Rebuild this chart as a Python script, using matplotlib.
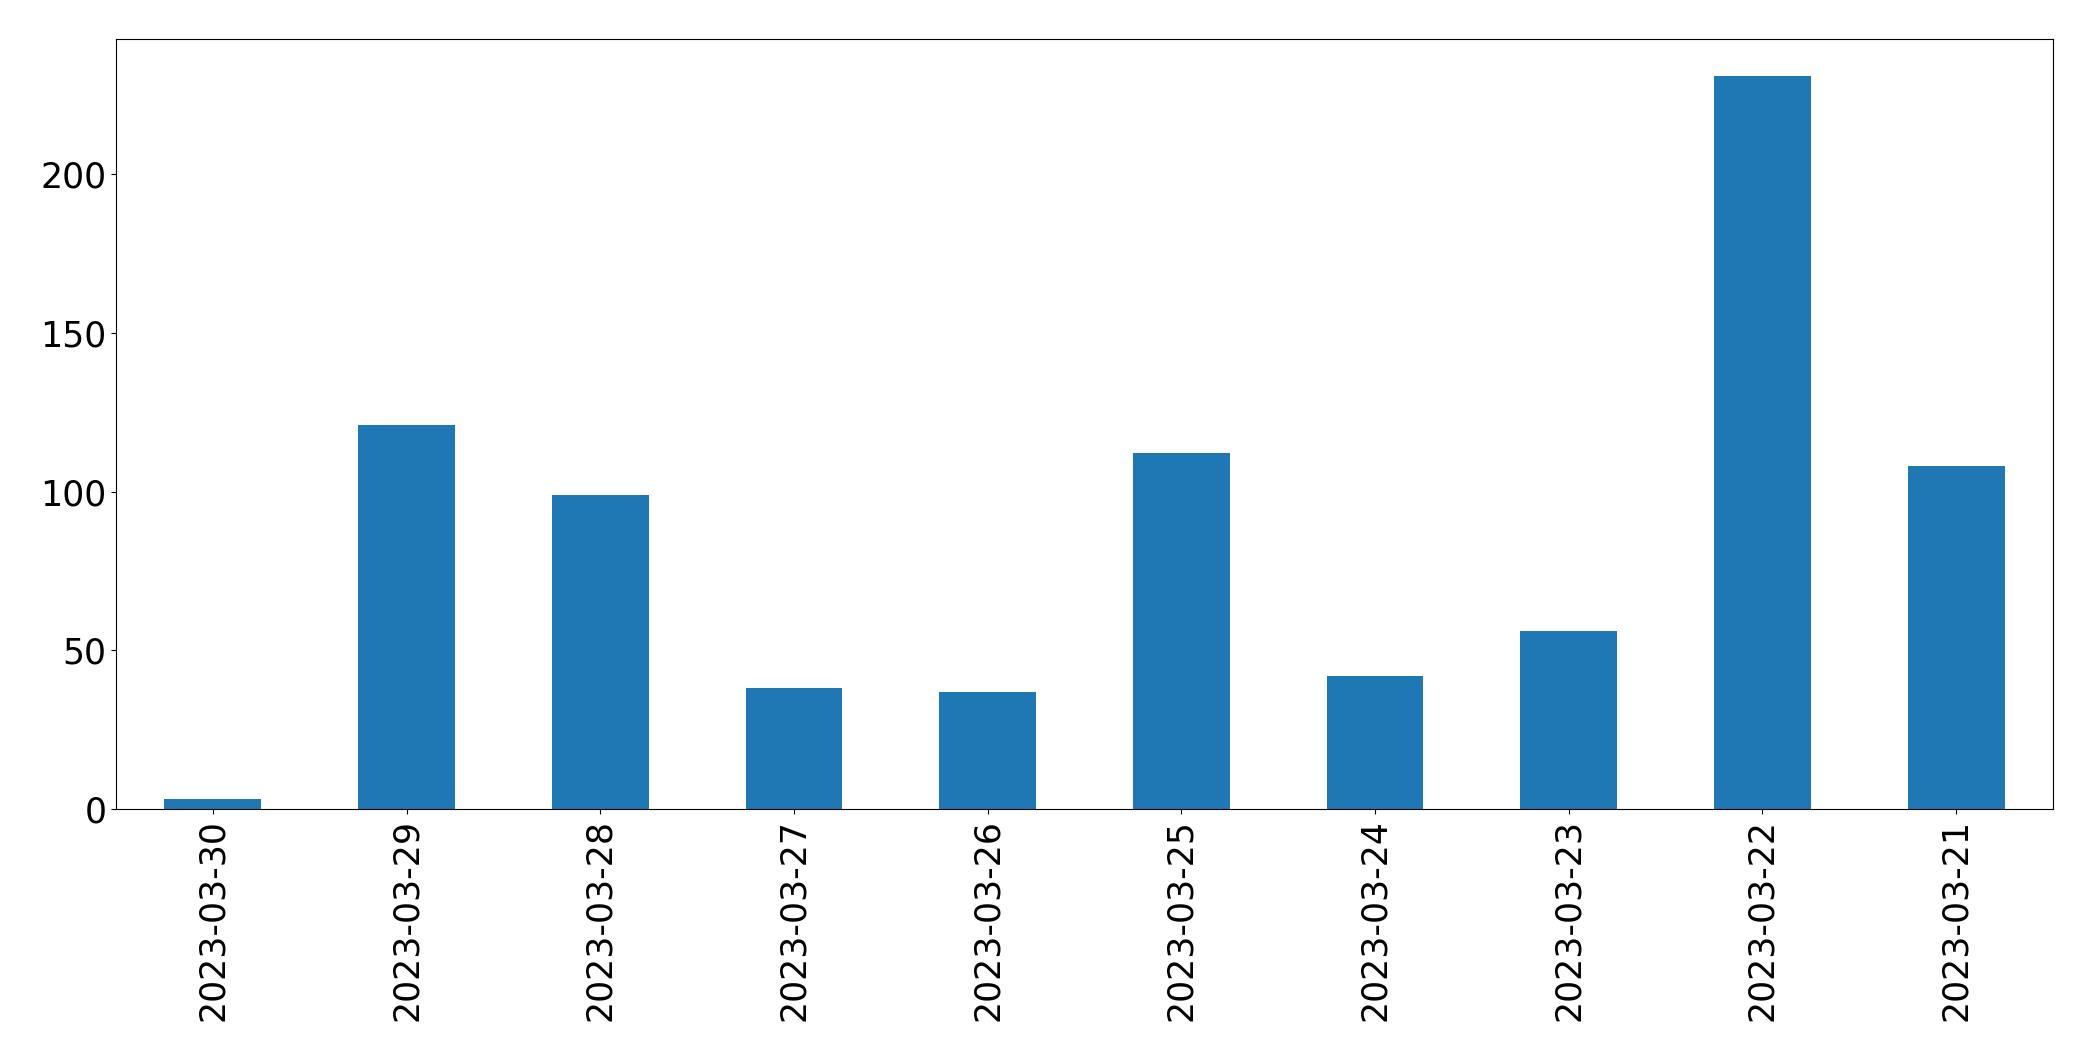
import pandas as pd
import matplotlib
matplotlib.use("Agg")
import matplotlib.pyplot as plt

# Daily counts, newest first
dates = ['2023-03-30', '2023-03-29', '2023-03-28', '2023-03-27', '2023-03-26',
         '2023-03-25', '2023-03-24', '2023-03-23', '2023-03-22', '2023-03-21']
counts = [3, 121, 99, 38, 37, 112, 42, 56, 231, 108]

s = pd.Series(counts, index=dates)

fig, ax = plt.subplots(figsize=(20.93, 10.61), dpi=100)
s.plot(kind='bar', ax=ax, color='#1f77b4')
ax.tick_params(axis='both', labelsize=25)
fig.subplots_adjust(left=116/2093, right=2053/2093, top=1-39/1061, bottom=1-809/1061)

fig.savefig('out.png', dpi=100)
